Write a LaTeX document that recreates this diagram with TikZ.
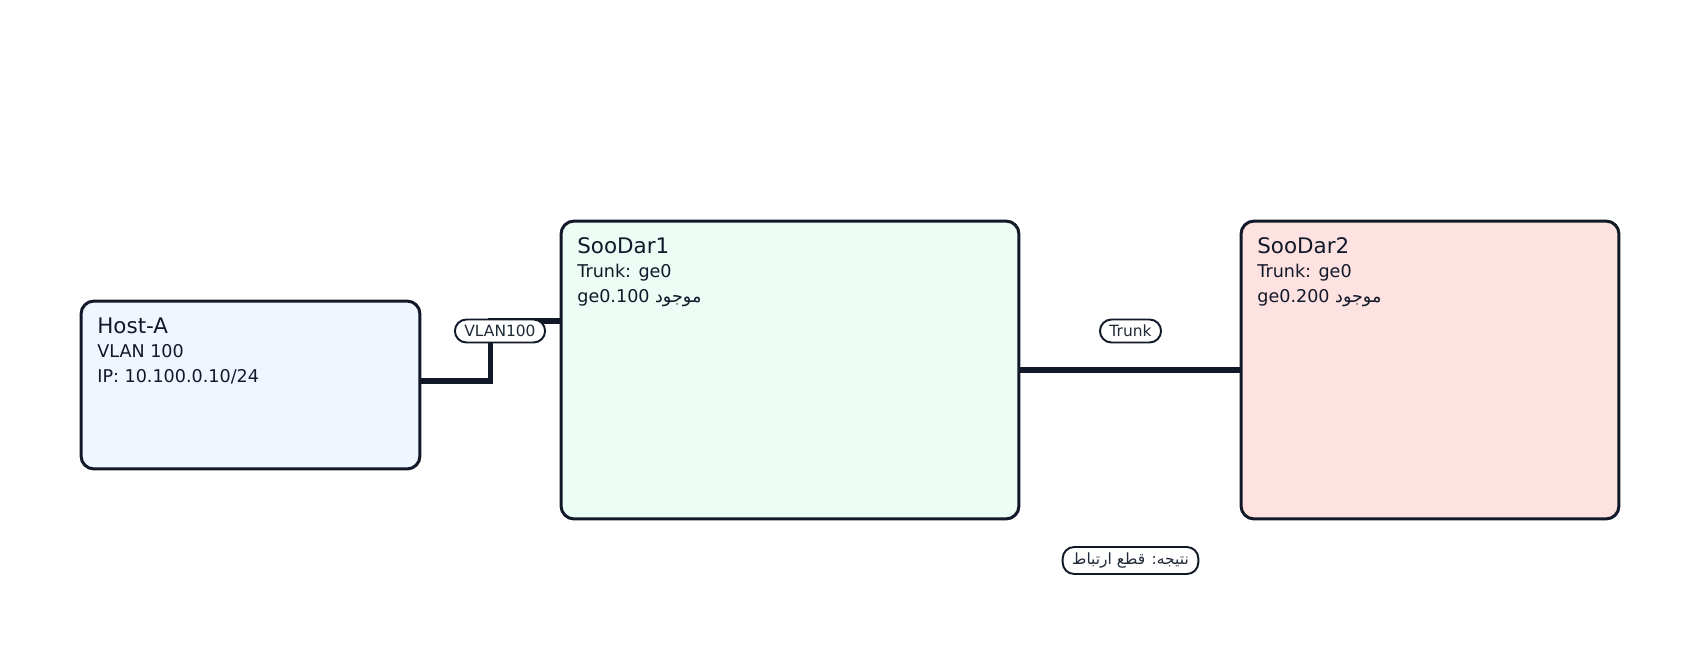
\documentclass[tikz,border=0pt]{standalone}
\usepackage{fontspec}
\setmainfont{DejaVu Sans}
\newfontfamily\arabicfont[Script=Arabic]{DejaVu Sans}
\TeXXeTstate=1
\usetikzlibrary{positioning}
\definecolor{ink}{HTML}{111827}
\definecolor{tagtext}{HTML}{1F2937}
\definecolor{hostfill}{HTML}{EFF6FF}
\definecolor{sdonefill}{HTML}{ECFDF5}
\definecolor{sdtwofill}{HTML}{FEE2E2}

\begin{document}
\begin{tikzpicture}[x=0.02cm, y=0.02cm,
    box/.style={draw=ink, line width=1.7pt, rounded corners=0.26cm, inner sep=0pt},
    boxtitle/.style={anchor=base west, inner sep=0pt, text=ink, font=\fontsize{12.2}{14}\selectfont},
    boxline/.style={anchor=base west, inner sep=0pt, text=ink, font=\fontsize{10}{12}\selectfont},
    tag/.style={draw=ink, fill=white, line width=1.1pt, rounded corners=0.23cm, minimum height=0.46cm,
      inner xsep=0.19cm, inner ysep=0pt, text=tagtext, font=\fontsize{8.8}{10}\selectfont},
    link/.style={draw=ink, line width=3.2pt}]
  \useasboundingbox (0,0) rectangle (1700,650);

  % devices
  \node[box, fill=hostfill, minimum width=6.78cm, minimum height=3.36cm] (hostA) at (250.5,265) {};
  \node[box, fill=sdonefill, minimum width=9.16cm, minimum height=5.96cm] (sdOne) at (790,280) {};
  \node[box, fill=sdtwofill, minimum width=7.56cm, minimum height=5.96cm] (sdTwo) at (1430,280) {};

  \node[boxtitle] (hostA-title) at (97,317) {Host-A};
  \node[boxline] (hostA-vlan) at (97,292.5) {VLAN 100};
  \node[boxline] (hostA-ip) at (97,268) {IP: 10.100.0.10/24};

  \node[boxtitle] (sdOne-title) at (577,397) {SooDar1};
  \node[boxline] (sdOne-trunk) at (577,372.5) {Trunk: ge0};
  \node[boxline] (sdOne-sub) at (577,348) {ge0.100 {\arabicfont\beginR موجود\endR}};

  \node[boxtitle] (sdTwo-title) at (1257,397) {SooDar2};
  \node[boxline] (sdTwo-trunk) at (1257,372.5) {Trunk: ge0};
  \node[boxline] (sdTwo-sub) at (1257,348) {ge0.200 {\arabicfont\beginR موجود\endR}};

  % links
  \draw[link] ([yshift=0.08cm]hostA.east) -- ++(69,0) |- ([yshift=0.98cm]sdOne.west);
  \draw[link] (sdOne.east) -- (sdTwo.west);

  \node[tag] (vlanTag) at (500,319) {VLAN100};
  \node[tag] (trunkTag) at (1130.5,319) {Trunk};
  \node[tag, minimum height=0.54cm] (resultTag) at (1130.5,89.5) {\arabicfont\beginR نتیجه: قطع ارتباط\endR};
\end{tikzpicture}
\end{document}
